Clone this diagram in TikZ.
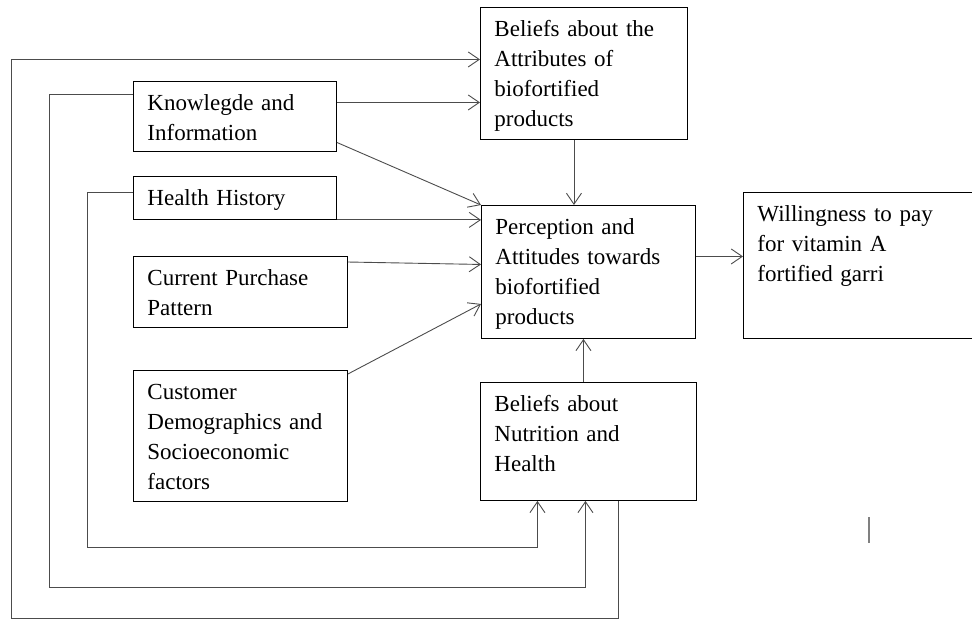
\documentclass[tikz,border=0pt]{standalone}
\usepackage{fontspec}
\setmainfont{Liberation Serif}
\usetikzlibrary{arrows.meta, positioning}

\begin{document}
\begin{tikzpicture}[x=1pt, y=-1pt,
    box/.style = {draw, line width=0.9pt, anchor=north west, align=left,
        inner xsep=14pt, inner ysep=0pt, text height=29.5pt,
        font=\fontsize{23}{30}\selectfont},
    link/.style = {draw=black!70, line width=0.9pt,
        -{Straight Barb[length=11pt, width=15pt]}}]
    \useasboundingbox (0,0) rectangle (972,622);
    \node (attr) [box, text width=179pt, text depth=102.5pt] at (480,7)
        {Beliefs about the\\ Attributes of\\ biofortified\\ products};
    \node (know) [box, text width=175pt, text depth=40.5pt] at (133,81)
        {Knowlegde and\\ Information};
    \node (hist) [box, text width=175pt, text depth=13.5pt] at (133,176)
        {Health History};
    \node (purch) [box, text width=186pt, text depth=41.5pt] at (133,256)
        {Current Purchase\\ Pattern};
    \node (demo) [box, text width=186pt, text depth=101.5pt] at (133,370)
        {Customer\\ Demographics and\\ Socioeconomic\\ factors};
    \node (perc) [box, text width=186pt, text depth=103.5pt] at (481,205)
        {Perception and\\ Attitudes towards\\ biofortified\\ products};
    \node (will) [box, text width=207pt, text depth=116.5pt] at (743,192)
        {Willingness to pay\\ for vitamin A\\ fortified garri};
    \node (nutr) [box, text width=188pt, text depth=88.5pt] at (480,382)
        {Beliefs about\\ Nutrition and\\ Health};
    % links into the middle boxes
    \draw [link] ([yshift=14pt]know.east) coordinate (k1) -- (k1 -| attr.west);
    \draw [link] ([yshift=-26pt]know.east) -- (perc.north west);
    \draw [link] (hist.south east) -- (hist.south east -| perc.west);
    \draw [link] ([yshift=-6pt]purch.north east) -- ([yshift=7.5pt]perc.west);
    \draw [link] ([yshift=-4pt]demo.north east) -- ([yshift=-32pt]perc.west);
    \draw [link] ([xshift=-10pt]attr.south) coordinate (a1) -- (a1 |- perc.north);
    \draw [link] ([xshift=-5pt]nutr.north) coordinate (n1) -- (n1 |- perc.south);
    \draw [link] ([yshift=15.5pt]perc.east) coordinate (p1) -- (p1 -| will.west);
    % feedback loops round the left side
    \draw [link] ([yshift=5.5pt]hist.west) -| (87,547) -| ([xshift=-51pt]nutr.south);
    \draw [link] ([yshift=22pt]know.west) -| (49,587) -| ([xshift=-3pt]nutr.south);
    \draw [link] ([xshift=30pt]nutr.south) |- (11,618) |- ([yshift=14pt]attr.west);
    % stray mark
    \draw [black!50, line width=1.8pt] (869,517) -- (869,543);
\end{tikzpicture}
\end{document}
